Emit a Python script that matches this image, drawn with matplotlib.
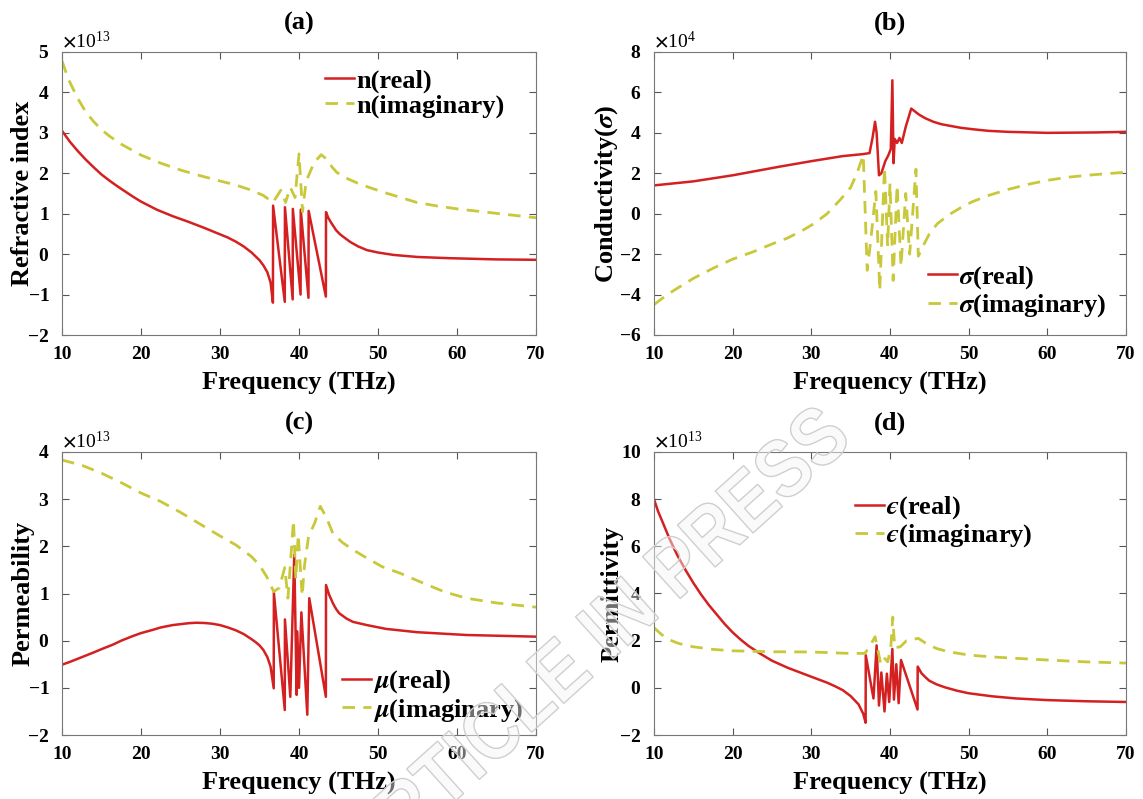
import numpy as np
import matplotlib
matplotlib.use('Agg')
import matplotlib.pyplot as plt
from matplotlib.ticker import ScalarFormatter
from matplotlib.textpath import TextPath
from matplotlib.patches import PathPatch
from matplotlib.font_manager import FontProperties
from matplotlib.transforms import Affine2D

plt.rcParams['font.family'] = 'Liberation Serif'
plt.rcParams['font.weight'] = 'bold'
plt.rcParams['axes.labelweight'] = 'bold'
plt.rcParams['axes.titleweight'] = 'bold'
plt.rcParams['mathtext.fontset'] = 'stix'
plt.rcParams['axes.unicode_minus'] = False

RED = '#d42020'
YEL = '#c8c83a'

# (a) refractive index, x1e13
a_f_real = [10, 11, 12, 13, 14, 15, 16, 17, 18, 19, 20, 22, 24, 26, 28, 30, 31, 32, 33, 34,
            35, 35.5, 36, 36.4, 36.7,
            36.72, 38.2, 38.22, 39.2, 39.22, 40.2, 40.22, 41.2, 41.22, 43.4,
            43.42, 43.7, 44, 44.4, 44.7, 45.2, 45.6, 46.5, 47.5, 48.6, 50, 52, 55, 59, 65, 70]
a_n_real = [3.05, 2.78, 2.55, 2.34, 2.15, 1.97, 1.82, 1.68, 1.55, 1.42, 1.3, 1.1, 0.94, 0.8, 0.65, 0.49, 0.41, 0.31, 0.19, 0.04,
            -0.15, -0.28, -0.45, -0.7, -1.2,
            1.2, -1.18, 1.16, -1.12, 1.12, -1.0, 1.1, -1.08, 1.07, -1.05,
            1.04, 0.9, 0.8, 0.68, 0.59, 0.49, 0.43, 0.3, 0.19, 0.1, 0.04, -0.02, -0.07, -0.1, -0.13, -0.14]
a_f_imag = [10, 10.5, 11, 12, 13, 14, 15, 16, 17.5, 20, 22.5, 25, 27.5, 30, 32, 34, 35.5, 36.7,
            37.7, 38.3, 38.9, 39.5, 40.0, 40.45, 40.9, 41.9, 42.8, 43.5, 44.2, 44.8, 46, 47.7,
            50.7, 54.9, 57.5, 60, 65.4, 70]
a_n_imag = [4.78, 4.5, 4.25, 3.85, 3.52, 3.28, 3.08, 2.92, 2.72, 2.45, 2.25, 2.08, 1.94, 1.81, 1.71, 1.58, 1.45, 1.28,
            1.58, 1.28, 1.65, 1.4, 2.48, 1.05, 1.8, 2.26, 2.46, 2.35, 2.15, 2.02, 1.88, 1.73,
            1.53, 1.28, 1.19, 1.12, 1.0, 0.9]

# (b) conductivity, x1e4
b_f_real = [10, 15, 20, 26, 30, 34, 36.6, 37.4, 37.8, 38.1, 38.3, 38.6, 38.9, 39.4, 39.8,
            40.1, 40.3, 40.45, 40.6, 40.9, 41.2, 41.5, 42.0, 42.7, 43.2, 43.7, 44.5, 45.5,
            46.5, 47.6, 49, 50.5, 52.5, 55, 60, 66, 70]
b_s_real = [1.4, 1.6, 1.9, 2.33, 2.6, 2.85, 2.95, 3.0, 3.8, 4.55, 4.0, 1.9, 2.0, 2.6, 2.9,
            3.2, 6.6, 2.5, 3.7, 3.5, 3.75, 3.5, 4.3, 5.2, 5.05, 4.9, 4.72, 4.55,
            4.43, 4.35, 4.25, 4.18, 4.1, 4.05, 4.0, 4.02, 4.05]
b_f_imag = [10, 11, 12.5, 15, 17.5, 20, 22.5, 25, 27, 29, 30.3, 32, 33.7, 35, 35.8, 36.6,
            37.1, 37.5, 38.2, 38.7, 39.3, 39.7, 40.0, 40.4, 40.9, 41.4, 42.0, 42.5, 43.3, 43.6,
            44.2, 45, 46, 47.5, 49, 50.5, 52.5, 55, 57.5, 60, 62.5, 65, 67.5, 70]
b_s_imag = [-4.5, -4.2, -3.8, -3.2, -2.7, -2.25, -1.9, -1.5, -1.2, -0.8, -0.5, 0.0, 0.7, 1.3, 2.0, 2.9,
            -2.8, -1.5, 1.1, -3.8, 2.3, -1.6, 1.5, -3.3, 1.4, -2.6, 1.0, -2.0, 2.2, -2.1,
            -1.6, -1.0, -0.5, -0.05, 0.3, 0.6, 0.9, 1.2, 1.45, 1.65, 1.8, 1.9, 1.98, 2.05]

# (c) permeability, x1e13
c_f_real = [10, 11, 12.5, 14, 15, 16.5, 17.5, 19, 20, 21.5, 22.5, 24, 25, 26, 27, 28, 29, 30,
            31, 32, 33, 34, 34.5, 35, 35.5, 36, 36.4, 36.8,
            36.82, 38.2, 38.22, 38.9, 39.4, 39.7, 39.75, 40.0, 40.3, 41.05, 41.3, 43.4,
            43.42, 43.8, 44.3, 44.7, 45.1, 46, 46.8, 48.6, 51, 54.9, 61.2, 70]
c_mu_real = [-0.51, -0.45, -0.35, -0.25, -0.18, -0.08, 0.0, 0.1, 0.16, 0.23, 0.28, 0.33, 0.35, 0.37, 0.38, 0.375, 0.36, 0.33,
             0.28, 0.22, 0.14, 0.03, -0.03, -0.1, -0.2, -0.35, -0.55, -1.01,
             1.02, -1.47, 0.45, -1.19, 1.82, -1.15, 0.2, -1.0, 0.6, -1.57, 0.9, -1.19,
             1.18, 0.98, 0.79, 0.67, 0.58, 0.47, 0.4, 0.33, 0.25, 0.18, 0.12, 0.085]
c_f_imag = [10, 12.5, 15, 17.5, 20, 22.5, 25, 27.5, 30, 32, 34, 35, 35.9, 36.8, 37.5, 38.2,
            38.6, 38.9, 39.3, 39.6, 39.9, 40.4, 40.7, 41.2, 42, 42.7, 43.5, 44.3, 45.5,
            46.9, 48.6, 50.5, 52.8, 56, 58.5, 61.2, 65, 70]
c_mu_imag = [3.83, 3.72, 3.55, 3.35, 3.13, 2.95, 2.72, 2.47, 2.22, 2.03, 1.78, 1.6, 1.36, 1.04, 1.12, 1.55,
             0.9, 1.6, 2.55, 1.3, 2.25, 0.95, 1.6, 2.2, 2.5, 2.85, 2.6, 2.27, 2.08,
             1.92, 1.75, 1.57, 1.43, 1.2, 1.03, 0.9, 0.8, 0.71]

# (d) permittivity, x1e13
d_f_real = [10, 10.5, 11, 11.5, 12, 13, 14, 15, 16, 17, 18, 19, 20, 21, 22, 23.5, 25, 27, 30,
            32, 33, 34, 35, 36, 36.6, 36.9,
            36.92, 37.9, 38.3, 38.6, 38.9, 39.3, 39.6, 39.9, 40.3, 40.5, 40.8, 41.1, 41.4,
            43.5, 43.52, 44, 44.5, 45, 45.9, 47, 48.5, 50, 53, 56, 60, 65, 70]
d_eps_real = [8.0, 7.5, 7.1, 6.7, 6.3, 5.6, 5.0, 4.45, 3.95, 3.5, 3.1, 2.7, 2.35, 2.05, 1.78, 1.45, 1.15, 0.85, 0.47,
              0.22, 0.07, -0.1, -0.35, -0.7, -1.1, -1.48,
              1.38, -0.45, 1.8, -0.75, 0.65, -1.0, 0.6, -0.6, 1.65, -0.5, 1.0, -0.65, 1.18,
              -0.92, 0.9, 0.62, 0.45, 0.3, 0.15, 0.02, -0.12, -0.23, -0.36, -0.45, -0.52, -0.57, -0.6]
d_f_imag = [10, 10.5, 11, 12, 13, 14, 15, 17.5, 20, 25, 30, 34.9, 36.8, 37.4, 38.1, 38.4, 38.8,
            39.2, 39.7, 40.1, 40.35, 40.6, 41.3, 42.1, 43.6, 44.5, 45.9, 47, 48, 50, 53, 56.1,
            60, 65, 70]
d_eps_imag = [2.55, 2.4, 2.25, 2.03, 1.9, 1.8, 1.74, 1.63, 1.57, 1.53, 1.52, 1.46, 1.46, 1.74, 2.17, 1.7, 1.04,
              1.3, 1.1, 1.7, 3.0, 1.7, 1.74, 2.0, 2.1, 1.9, 1.67, 1.57, 1.5, 1.39, 1.31, 1.25,
              1.18, 1.1, 1.05]

panels = [
    dict(title='(a)', ylabel='Refractive index', order=13, ylim=(-2, 5), ystep=1,
         real=(a_f_real, a_n_real), imag=(a_f_imag, a_n_imag),
         labels=('n(real)', 'n(imaginary)'), leg=(0.555, 0.94), lpad=-5),
    dict(title='(b)', ylabel=r'Conductivity($\sigma$)', order=4, ylim=(-6, 8), ystep=2,
         real=(b_f_real, b_s_real), imag=(b_f_imag, b_s_imag),
         labels=(r'$\sigma$(real)', r'$\sigma$(imaginary)'), leg=(0.58, 0.25), lpad=-1),
    dict(title='(c)', ylabel='Permeability', order=13, ylim=(-2, 4), ystep=1,
         real=(c_f_real, c_mu_real), imag=(c_f_imag, c_mu_imag),
         labels=(r'$\mu$(real)', r'$\mu$(imaginary)'), leg=(0.59, 0.235), lpad=-5),
    dict(title='(d)', ylabel='Permittivity', order=13, ylim=(-2, 10), ystep=2,
         real=(d_f_real, d_eps_real), imag=(d_f_imag, d_eps_imag),
         labels=('$\u03f5$(real)', '$\u03f5$(imaginary)'), leg=(0.425, 0.85), lpad=-3),
]


class FixedOrderFormatter(ScalarFormatter):
    """Scalar formatter with a fixed power-of-ten multiplier."""

    def __init__(self, order):
        self.order = order
        super().__init__(useMathText=True, useOffset=False)

    def _set_order_of_magnitude(self):
        self.orderOfMagnitude = self.order


fig = plt.figure(figsize=(11.43, 7.99), dpi=100)
W, H = 1143, 799
boxes = [(62, 52, 536, 335), (654, 52, 1126, 335), (62, 452, 536, 735), (654, 452, 1126, 735)]

for p, (x0, y0, x1, y1) in zip(panels, boxes):
    ax = fig.add_axes([x0 / W, 1 - y1 / H, (x1 - x0) / W, (y1 - y0) / H])
    s = 10.0 ** p['order']
    fr, vr = p['real']
    fi, vi = p['imag']
    ax.plot(fr, np.array(vr) * s, color=RED, lw=1.8, label=p['labels'][0])
    ax.plot(fi, np.array(vi) * s, color=YEL, lw=2.0, ls=(0, (4.5, 3)), label=p['labels'][1])
    ax.set_xlim(10, 70)
    ax.set_xticks(range(10, 71, 10))
    lo, hi = p['ylim']
    ax.set_ylim(lo * s, hi * s)
    ax.set_yticks(np.arange(lo, hi + 0.5, p['ystep']) * s)
    ax.yaxis.set_major_formatter(FixedOrderFormatter(p['order']))
    ax.yaxis.get_offset_text().set_fontsize(14)
    ax.yaxis.get_offset_text().set_fontweight('normal')
    ax.tick_params(direction='in', top=True, right=True, labelsize=14, length=5,
                   width=0.8, color='#555555')
    ax.tick_params(axis='x', pad=8)
    ax.tick_params(axis='y', pad=9)
    for sp in ax.spines.values():
        sp.set_color('#777777')
        sp.set_linewidth(0.8)
    ax.set_xlabel('Frequency (THz)', fontsize=19, labelpad=6)
    ax.set_ylabel(p['ylabel'], fontsize=19, labelpad=p['lpad'])
    ax.set_title(p['title'], fontsize=19, pad=16)
    ax.legend(loc='upper left', bbox_to_anchor=p['leg'], frameon=False, fontsize=19,
              handlelength=1.1, handletextpad=0.1, labelspacing=0.05, borderpad=0,
              borderaxespad=0)

# diagonal stamp across the lower half
tp = TextPath((0, 0), 'ARTICLE IN PRESS', size=82, prop=FontProperties(family='Liberation Sans'))
bb = tp.get_extents()
tr = (Affine2D().translate(-(bb.x0 + bb.width / 2), -(bb.y0 + bb.height / 2))
      .scale(0.86, 1.0).rotate_deg(42).translate(592, H - 640))
fig.patches.append(PathPatch(tp, transform=tr, facecolor=(0.96, 0.96, 0.96, 0.45),
                             edgecolor='#cfcfcf', lw=1.0, zorder=10))

fig.savefig('out.png', dpi=100)
